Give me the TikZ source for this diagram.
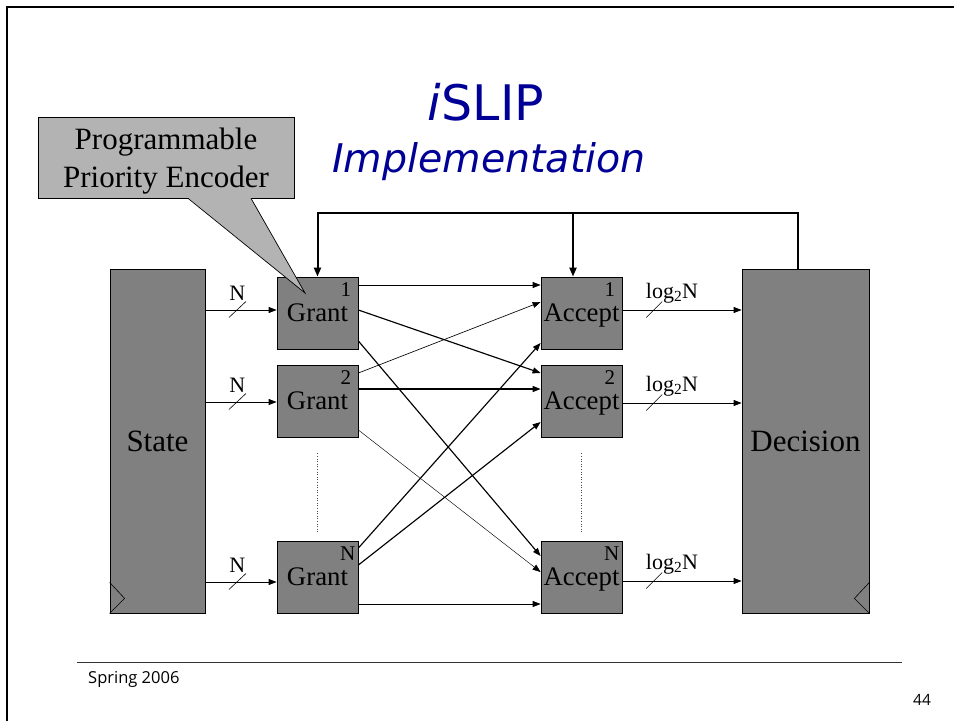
\documentclass[tikz,border=0pt]{standalone}
\usepackage{fontspec}
\setmainfont{Liberation Serif}
\newfontfamily\titlefont{DejaVu Sans}
\newfontfamily\footfont{Open Sans}
\usetikzlibrary{arrows.meta,calc}
\definecolor{boxgray}{RGB}{128,128,128}
\definecolor{callgray}{RGB}{179,179,179}
\definecolor{titleblue}{RGB}{0,0,150}
\tikzset{
  blk/.style={draw=black, line width=0.8pt, fill=boxgray, inner sep=0pt, text depth=0pt},
  unit/.style={blk, minimum width=81pt, minimum height=72pt, font=\fontsize{26.8}{26.8}\selectfont},
  big/.style={blk, minimum height=344pt, font=\fontsize{31}{31}\selectfont},
  num/.style={font=\fontsize{21}{21}\selectfont, inner sep=0pt, anchor=north east},
  lab/.style={font=\fontsize{22}{22}\selectfont, inner sep=0pt},
  conn/.style={-{Triangle[length=8pt,width=6pt]}, line width=0.8pt},
  connbold/.style={conn, line width=1.15pt},
  connthin/.style={conn, line width=0.65pt},
  connfine/.style={conn, line width=0.45pt},
  fb/.style={-{Triangle[length=9pt,width=7pt]}, line width=2pt},
  slash/.style={line width=0.6pt},
  dots/.style={dotted, line width=0.6pt, black!70},
}
\begin{document}
\begin{tikzpicture}[x=1pt,y=-1pt]
\useasboundingbox (0,0) rectangle (954,721);
% frame
\draw[line width=2.5pt] (7,721) -- (7,7) -- (954,7);
% title
\node[font=\titlefont\fontsize{49}{49}\selectfont, text=titleblue, anchor=base, inner sep=0pt] (ttl1) at (486,120) {{\itshape i}SLIP};
\node[font=\titlefont\itshape\fontsize{39.5}{39.5}\selectfont, text=titleblue, anchor=base, inner sep=0pt] (ttl2) at (489,172) {Implementation};
% big blocks
\node[big, minimum width=95pt] (state) at (157.5,441) {State};
\node[big, minimum width=127pt] (dec) at (805.5,441) {Decision};
% grant / accept units
\node[unit] (g1) at (317.5,313) {Grant};
\node[unit] (g2) at (317.5,401) {Grant};
\node[unit] (gN) at (317.5,577) {Grant};
\node[unit] (a1) at (581.5,313) {Accept};
\node[unit] (a2) at (581.5,401) {Accept};
\node[unit] (aN) at (581.5,577) {Accept};
\node[num] (g1n) at ([shift={(-7pt,-6pt)}]g1.north east) {1};
\node[num] (g2n) at ([shift={(-7pt,-6pt)}]g2.north east) {2};
\node[num] (gNn) at ([shift={(-3pt,-6pt)}]gN.north east) {N};
\node[num] (a1n) at ([shift={(-7pt,-6pt)}]a1.north east) {1};
\node[num] (a2n) at ([shift={(-7pt,-6pt)}]a2.north east) {2};
\node[num] (aNn) at ([shift={(-3pt,-6pt)}]aN.north east) {N};
% clock marks
\draw[slash] ([yshift=31pt]state.south west) -- ([shift={(15pt,15pt)}]state.south west) -- (state.south west);
\draw[slash] ([yshift=31pt]dec.south east) -- ([shift={(-15pt,15pt)}]dec.south east) -- (dec.south east);
% dotted continuation
\draw[dots] ([yshift=-16pt]g2.south) -- ([yshift=8pt]gN.north);
\draw[dots] ([yshift=-16pt]a2.south) -- ([yshift=8pt]aN.north);
% inputs
\coordinate (i1) at ([yshift=3pt]g1.west);
\coordinate (i2) at ([yshift=-1pt]g2.west);
\coordinate (i3) at ([yshift=-5pt]gN.west);
\foreach \k in {1,2,3}{
  \draw[conn] (state.east |- i\k) -- coordinate[pos=0.45] (s\k) (i\k);
  \draw[slash] ([shift={(-8.5pt,-7.5pt)}]s\k) -- ([shift={(8.5pt,8.5pt)}]s\k);
  \node[lab, anchor=base] (nl\k) at ([yshift=10pt]s\k) {N};
}
% outputs
\coordinate (o1) at ([yshift=3pt]a1.east);
\coordinate (o2) at ([yshift=-2pt]a2.east);
\coordinate (o3) at ([yshift=-4pt]aN.east);
\foreach \k in {1,2,3}{
  \draw[conn] (o\k) -- coordinate[pos=0.267] (q\k) (dec.west |- o\k);
  \draw[slash] ([shift={(-8pt,-7.5pt)}]q\k) -- ([shift={(8pt,8.5pt)}]q\k);
  \node[lab, anchor=base west] (ll\k) at ([shift={(-8.5pt,12pt)}]q\k) {log\textsubscript{2}N};
}
% crossbar
\draw[conn]     ([yshift=28pt]g1.east)  -- ([yshift=28pt]a1.west);
\draw[connbold] ([yshift=3pt]g1.east)   -- ([yshift=28pt]a2.west);
\draw[connbold] ([yshift=-28pt]g1.east) -- ([yshift=21pt]aN.west);
\draw[connthin] ([yshift=28pt]g2.east)  -- ([yshift=11pt]a1.west);
\draw[connbold] ([yshift=12pt]g2.east)  -- ([yshift=12pt]a2.west);
\draw[connfine] ([yshift=-29pt]g2.east) -- ([yshift=5pt]aN.west);
\draw[connbold] ([yshift=29pt]gN.east)  -- ([yshift=-30pt]a1.west);
\draw[connbold] ([yshift=12pt]gN.east)  -- ([yshift=-21pt]a2.west);
\draw[conn]     ([yshift=-27pt]gN.east) -- ([yshift=-27pt]aN.west);
% feedback
\coordinate (fbtop) at (0,213);
\coordinate (fbs) at ([xshift=-7.5pt]dec.north);
\coordinate (a1in) at ([xshift=-8.5pt]a1.north);
\draw[fb] (fbs) -- (fbs |- fbtop) -- (g1.north |- fbtop) -- (g1.north);
\draw[fb] (a1in |- fbtop) -- (a1in);
% callout
\node[draw, fill=callgray, line width=0.7pt, minimum width=256pt, minimum height=81pt, inner sep=0pt, text depth=0pt, align=center, font=\fontsize{31}{38}\selectfont] (pe) at (166,157.5) {Programmable\\Priority Encoder};
\coordinate (tip) at ([shift={(-12.5pt,20pt)}]g1.center);
\fill[callgray] ([shift={(22pt,0.5pt)}]pe.south) -- (tip) -- ([shift={(85pt,0.5pt)}]pe.south) -- cycle;
\draw[line width=0.7pt] ([xshift=22pt]pe.south) -- (tip) -- ([xshift=85pt]pe.south);
% footer
\draw[line width=1pt, black!80] (77,662) -- (902,662);
\node[font=\footfont\fontsize{16.5}{16.5}\selectfont, anchor=base west, inner sep=0pt] (spring) at (88,683) {Spring 2006};
\node[font=\footfont\fontsize{15.5}{15.5}\selectfont, anchor=base, inner sep=0pt] (pg) at (922,705) {44};
\end{tikzpicture}
\end{document}
